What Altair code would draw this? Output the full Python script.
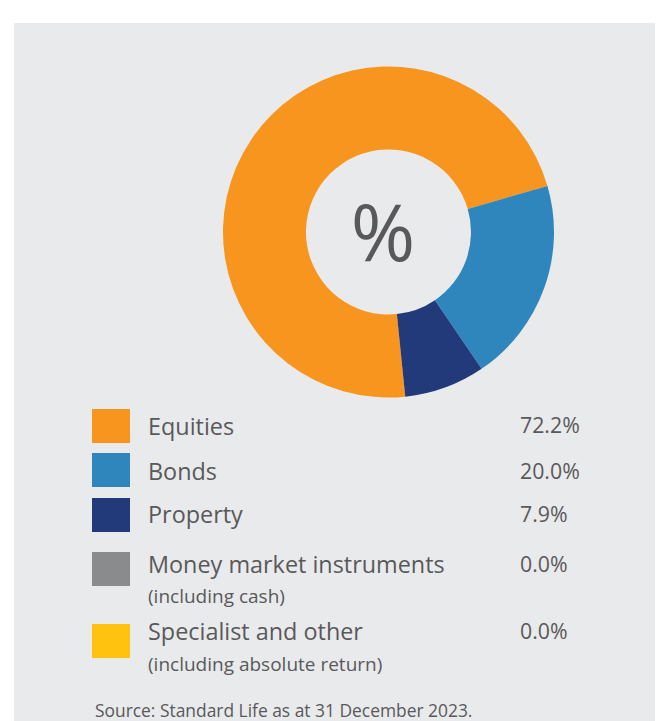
import altair as alt
import pandas as pd

categories = ["Equities", "Bonds", "Property", "Money market instruments", "Specialist and other"]
sublabels = ["", "", "", "(including cash)", "(including absolute return)"]
values = [72.2, 20.0, 7.9, 0.0, 0.0]
colors = ["#F7951F", "#2E86BC", "#223A7A", "#8A8B8D", "#FFC20F"]
source_note = "Source: Standard Life as at 31 December 2023."

df = pd.DataFrame({
    "category": categories,
    "sub": sublabels,
    "value": values,
    "idx": list(range(len(categories))),
})

W, H = 647, 713
FONT = "Open Sans"
TXT = "#59595B"
color_scale = alt.Scale(domain=categories, range=colors)
start = 3.040
two_pi = 6.283185307

base = alt.Chart(df)

panel = alt.Chart(alt.Data(values=[{}])).mark_rect(color="#E9EAEB").encode(
    x=alt.value(6), x2=alt.value(W), y=alt.value(15), y2=alt.value(H)
)

donut = base.mark_arc(innerRadius=82.5, outerRadius=165.5, strokeWidth=0).encode(
    theta=alt.Theta("value:Q", stack=True, scale=alt.Scale(range=[start, start + two_pi])),
    order=alt.Order("idx:Q"),
    color=alt.Color("category:N", scale=color_scale, legend=None),
    x=alt.value(380.5),
    y=alt.value(224),
)

pct = alt.Chart(alt.Data(values=[{"t": "%"}])).mark_text(
    font=FONT, fontSize=78, color=TXT, align="center", baseline="alphabetic"
).encode(text="t:N", x=alt.value(375), y=alt.value(253))

layers = [panel, donut, pct]

square_y = [418, 462, 507, 561, 633]
label_y = [427, 472, 515, 565, 632]
sub_y = [None, None, None, 595, 663]
value_y = [425, 471, 514, 564, 631]

for i, cat in enumerate(categories):
    row = base.transform_filter(alt.datum.category == cat)
    layers.append(
        row.mark_rect().encode(
            x=alt.value(84), x2=alt.value(122),
            y=alt.value(square_y[i] - 17), y2=alt.value(square_y[i] + 17),
            color=alt.Color("category:N", scale=color_scale, legend=None),
        )
    )
    layers.append(
        row.mark_text(font=FONT, fontSize=23.4, color=TXT, align="left", baseline="alphabetic").encode(
            text="category:N", x=alt.value(140), y=alt.value(label_y[i])
        )
    )
    if sub_y[i] is not None:
        layers.append(
            row.mark_text(font=FONT, fontSize=19, color=TXT, align="left", baseline="alphabetic").encode(
                text="sub:N", x=alt.value(140), y=alt.value(sub_y[i])
            )
        )
    layers.append(
        row.transform_calculate(lbl="format(datum.value, '.1f') + '%'").mark_text(
            font=FONT, fontSize=21.3, color=TXT, align="left", baseline="alphabetic"
        ).encode(text="lbl:N", x=alt.value(512), y=alt.value(value_y[i]))
    )

src = alt.Chart(alt.Data(values=[{"t": source_note}])).mark_text(
    font=FONT, fontSize=17.4, color=TXT, align="left", baseline="alphabetic"
).encode(text="t:N", x=alt.value(87), y=alt.value(708.5))
layers.append(src)

chart = alt.layer(*layers).properties(
    width=W, height=H, padding=0, autosize=alt.AutoSizeParams(type="none"), background="white"
).configure_view(stroke=None)

chart.save("out.html", embed_options={"renderer": "svg", "actions": False})
